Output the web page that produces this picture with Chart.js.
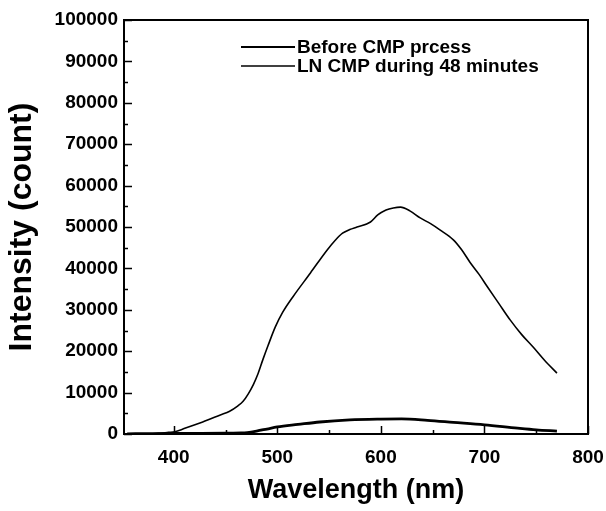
<!DOCTYPE html>
<html>
<head>
<meta charset="utf-8">
<script src="https://cdn.jsdelivr.net/npm/chart.js@4.4.0/dist/chart.umd.min.js"></script>
<style>
  html, body { margin: 0; padding: 0; background: #fff; }
  #chart { display: block; }
</style>
</head>
<body>
<canvas id="chart" width="606" height="511"></canvas>
<script>
// Before CMP (thick, low curve)
const beforeWl = [355, 380, 420, 450, 465, 471, 480, 490, 500, 520, 541, 570, 600, 620, 645, 670, 700, 732, 750, 770]
const beforeI = [50, 100, 150, 200, 250, 350, 700, 1200, 1700, 2300, 2900, 3400, 3600, 3650, 3300, 2800, 2200, 1400, 1000, 700]

// LN CMP during 48 minutes (thin, big curve)
const lnWl = [377, 385, 395, 401, 410, 428, 445, 454, 462, 467, 472, 477, 481, 486, 491, 498, 505, 515, 532, 548, 556, 563, 570, 577, 590, 597, 605, 612, 619, 628, 638, 648, 657, 670, 678, 686, 695, 703, 714, 725, 736, 747, 758, 770]
const lnI = [0, 150, 400, 550, 1300, 2900, 4600, 5500, 6800, 7900, 9700, 12000, 14300, 17900, 21300, 25800, 29300, 33100, 38900, 44400, 46800, 48500, 49400, 50000, 51200, 52900, 54100, 54600, 54800, 53900, 52200, 50800, 49300, 46900, 44500, 41500, 38500, 35500, 31500, 27500, 24000, 21000, 17800, 14700]

const seriesNames = ["Before CMP prcess", "LN CMP during 48 minutes"]

const xTicks = [400, 500, 600, 700, 800]
const xMinor = [450, 550, 650, 750]
const yTicks = [0, 10000, 20000, 30000, 40000, 50000, 60000, 70000, 80000, 90000, 100000]
const yMinor = [5000, 15000, 25000, 35000, 45000, 55000, 65000, 75000, 85000, 95000]

function toPoints(xs, ys) {
    return xs.map((x, i) => ({ x: x, y: ys[i] }))
}

// frame + inward ticks, drawn through the scales
const framePlugin = {
    id: 'frame',
    afterDatasetsDraw(chart) {
        const ctx = chart.ctx
        const a = chart.chartArea
        const xs = chart.scales.x
        const ys = chart.scales.y
        ctx.save()
        ctx.strokeStyle = '#000'
        ctx.lineWidth = 2
        ctx.strokeRect(a.left, a.top, a.right - a.left, a.bottom - a.top)
        ctx.lineWidth = 1.5
        ctx.beginPath()
        xTicks.forEach(v => {
            const px = Math.round(xs.getPixelForValue(v)) + 0.5
            ctx.moveTo(px, a.bottom); ctx.lineTo(px, a.bottom - 8)
        })
        xMinor.forEach(v => {
            const px = Math.round(xs.getPixelForValue(v)) + 0.5
            ctx.moveTo(px, a.bottom); ctx.lineTo(px, a.bottom - 4)
        })
        yTicks.forEach(v => {
            const py = Math.round(ys.getPixelForValue(v)) + 0.5
            ctx.moveTo(a.left, py); ctx.lineTo(a.left + 8, py)
        })
        yMinor.forEach(v => {
            const py = Math.round(ys.getPixelForValue(v)) + 0.5
            ctx.moveTo(a.left, py); ctx.lineTo(a.left + 4, py)
        })
        ctx.stroke()
        ctx.restore()
    }
}

// legend inside the plot
const legendPlugin = {
    id: 'innerLegend',
    afterDatasetsDraw(chart) {
        const ctx = chart.ctx
        ctx.save()
        ctx.font = 'bold 19px "Liberation Sans", Arial, sans-serif'
        ctx.textBaseline = 'middle'
        ctx.fillStyle = '#000'
        chart.data.datasets.forEach((ds, i) => {
            const y = 47 + i * 19
            ctx.strokeStyle = '#000'
            ctx.lineWidth = i === 0 ? 2 : 1.3
            ctx.beginPath()
            ctx.moveTo(241, y); ctx.lineTo(295, y)
            ctx.stroke()
            ctx.fillText(ds.label, 297, y + 1)
        })
        ctx.restore()
    }
}

const tickFont = { family: '"Liberation Sans", Arial, sans-serif', size: 19, weight: 'bold' }

new Chart(document.getElementById('chart'), {
    type: 'line',
    data: {
        datasets: [{
            label: seriesNames[0],
            data: toPoints(beforeWl, beforeI),
            borderColor: '#000',
            borderWidth: 2.8,
            pointRadius: 0,
            fill: false,
            cubicInterpolationMode: 'monotone'
        }, {
            label: seriesNames[1],
            data: toPoints(lnWl, lnI),
            borderColor: '#000',
            borderWidth: 1.6,
            pointRadius: 0,
            fill: false,
            cubicInterpolationMode: 'monotone'
        }]
    },
    options: {
        responsive: false,
        animation: false,
        layout: { padding: { top: 20, right: 18, left: 0, bottom: 0 } },
        plugins: {
            legend: { display: false },
            tooltip: { enabled: false }
        },
        scales: {
            x: {
                type: 'linear',
                min: 352,
                max: 800,
                grid: { display: false, drawTicks: false },
                border: { display: false },
                afterBuildTicks: s => { s.ticks = xTicks.map(v => ({ value: v })) },
                afterFit: s => { s.height = 77; s.paddingLeft = 0; s.paddingRight = 0 },
                ticks: { color: '#000', font: tickFont, padding: 12, maxRotation: 0, callback: v => String(v) },
                title: {
                    display: true,
                    text: 'Wavelength (nm)',
                    color: '#000',
                    font: { family: '"Liberation Sans", Arial, sans-serif', size: 27, weight: 'bold' },
                    padding: { top: 0, bottom: 4 }
                }
            },
            y: {
                min: 0,
                max: 100000,
                grid: { display: false, drawTicks: false },
                border: { display: false },
                afterBuildTicks: s => { s.ticks = yTicks.map(v => ({ value: v })) },
                afterFit: s => { s.width = 124; s.paddingTop = 0; s.paddingBottom = 0 },
                ticks: { color: '#000', font: tickFont, padding: 6, callback: v => String(v) },
                title: {
                    display: true,
                    text: 'Intensity (count)',
                    color: '#000',
                    font: { family: '"Liberation Sans", Arial, sans-serif', size: 32, weight: 'bold' },
                    padding: { top: 3, bottom: 0 }
                }
            }
        }
    },
    plugins: [framePlugin, legendPlugin]
})
</script>
</body>
</html>
